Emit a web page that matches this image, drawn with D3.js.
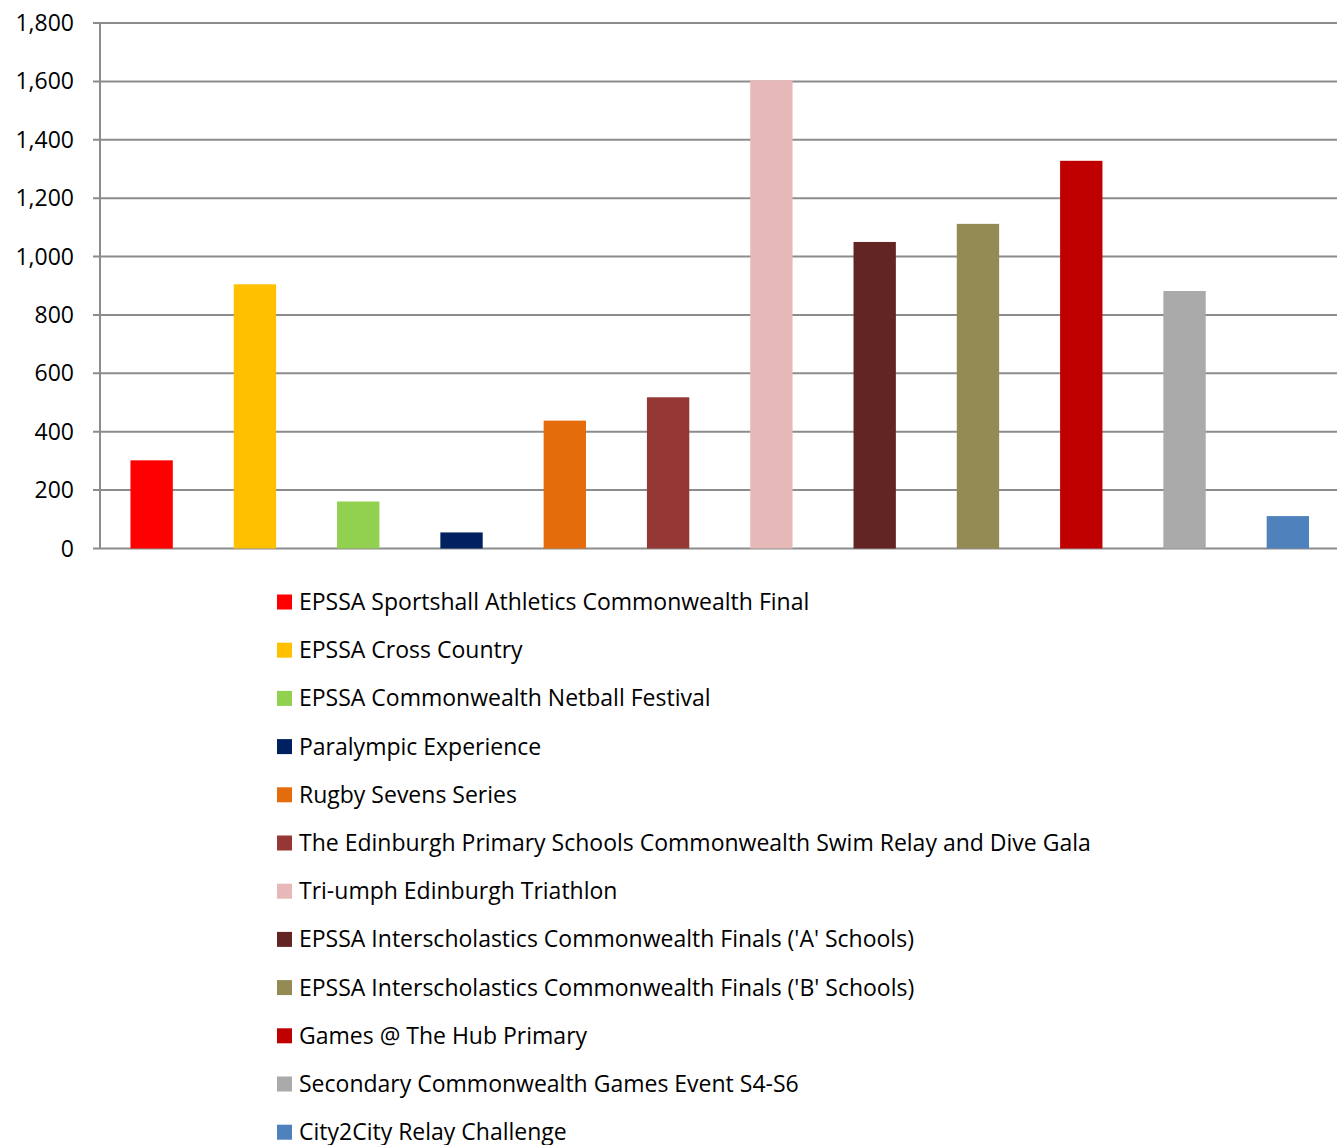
<!DOCTYPE html>
<html><head><meta charset="utf-8">
<script src="https://cdn.jsdelivr.net/npm/d3@7"></script>
<style>body{margin:0;background:#fff;} svg{display:block;} text{font-family:"Open Sans",sans-serif;fill:#000;}</style>
</head><body>
<svg id="c" width="1337" height="1145"></svg>
<script>
const categories = [
  "EPSSA Sportshall Athletics Commonwealth Final",
  "EPSSA Cross Country",
  "EPSSA Commonwealth Netball Festival",
  "Paralympic Experience",
  "Rugby Sevens Series",
  "The Edinburgh Primary Schools Commonwealth Swim Relay and Dive Gala",
  "Tri-umph Edinburgh Triathlon",
  "EPSSA Interscholastics Commonwealth Finals ('A' Schools)",
  "EPSSA Interscholastics Commonwealth Finals ('B' Schools)",
  "Games @ The Hub Primary",
  "Secondary Commonwealth Games Event S4-S6",
  "City2City Relay Challenge"
];
const values = [302, 905, 161, 55, 438, 518, 1604, 1050, 1112, 1328, 882, 111];
const colors = ["#FF0000","#FFC000","#92D050","#002060","#E46C0A","#953735","#E6B9B8","#632523","#948A54","#C00000","#AAAAAA","#4F81BD"];
const yTicks = [0,200,400,600,800,1000,1200,1400,1600,1800];

(function(){
const svg = d3.select("#c");
const mL = 100, mR = 1337, mT = 23, mB = 548.5;
const x = d3.scaleBand().domain(categories).range([mL, 1339.5]).paddingInner(0.59).paddingOuter(0.295);
const y = d3.scaleLinear().domain([0,1800]).range([mB, mT]);

svg.append("g").selectAll("line").data(yTicks).join("line")
  .attr("x1", mL - 7).attr("x2", mR).attr("y1", d=>y(d)).attr("y2", d=>y(d))
  .attr("stroke", "#8c8c8c").attr("stroke-width", 2);

svg.append("g").selectAll("rect").data(values).join("rect")
  .attr("x", (d,i)=>x(categories[i])).attr("width", x.bandwidth())
  .attr("y", d=>y(d)).attr("height", d=>y(0)-y(d))
  .attr("fill", (d,i)=>colors[i]);

svg.append("line").attr("x1", mL).attr("x2", mL).attr("y1", mT).attr("y2", mB)
  .attr("stroke", "#8c8c8c").attr("stroke-width", 2);

const fmt = d3.format(",");
svg.append("g").selectAll("text").data(yTicks).join("text")
  .attr("x", 74).attr("y", d=>y(d)).attr("dy", "0.35em")
  .attr("text-anchor", "end").attr("font-size", 23).text(d=>fmt(d));

const lg = svg.append("g");
categories.forEach((c,i)=>{
  const cy = 602 + i*48.2;
  lg.append("rect").attr("x", 277).attr("y", cy-7.5).attr("width", 15).attr("height", 15).attr("fill", colors[i]);
  lg.append("text").attr("x", 299).attr("y", cy).attr("dy", "0.35em").attr("font-size", 23).text(c);
});
})();
</script>
</body></html>
